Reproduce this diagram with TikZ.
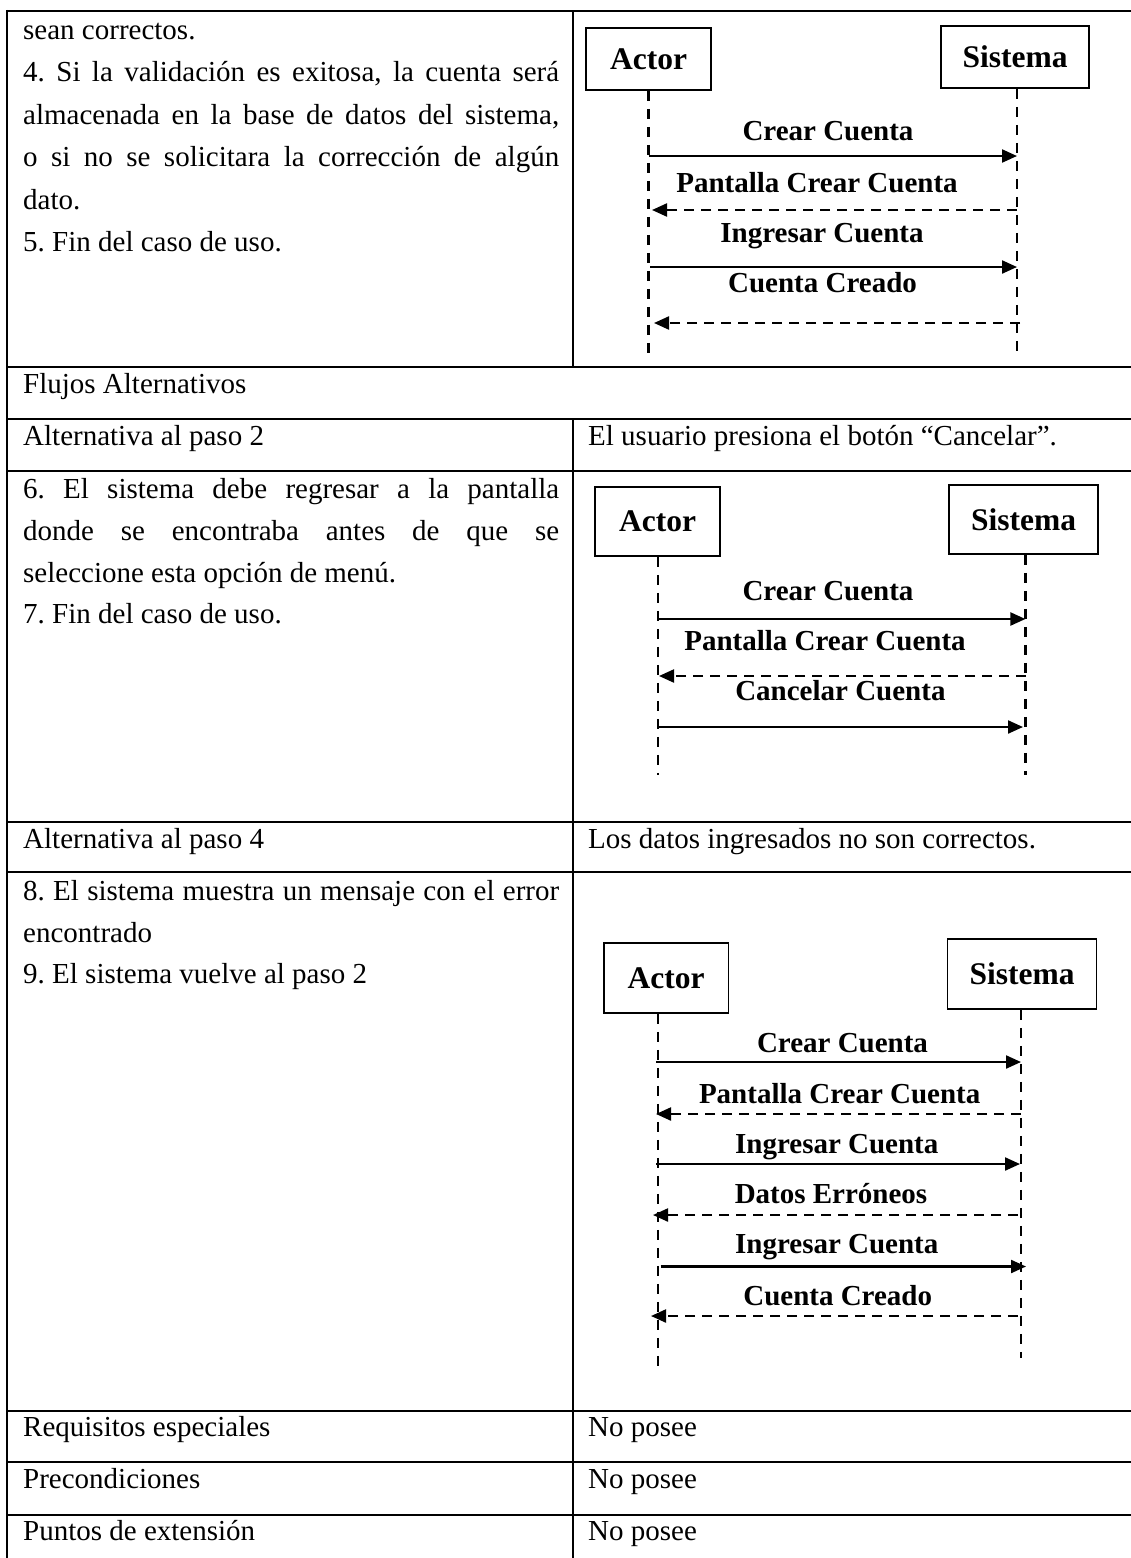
\documentclass[tikz,border=0pt]{standalone}
\usepackage{fontspec}
\setmainfont{Liberation Serif}
\usetikzlibrary{arrows.meta}
\frenchspacing

\begin{document}
\begin{tikzpicture}[x=1pt,y=-1pt,
  rule/.style={line width=2.4pt},
  body/.style={inner sep=0pt, anchor=base west, font=\fontsize{29}{35}\selectfont},
  head/.style={draw, line width=1.5pt, inner sep=0pt, minimum width=125pt,
    font=\fontsize{31.5}{36}\selectfont\bfseries},
  lbl/.style={inner sep=0pt, anchor=base, font=\fontsize{29}{35}\selectfont\bfseries},
  life/.style={line width=2.2pt, dash pattern=on 10pt off 8pt},
  call/.style={line width=2.2pt, -{Triangle[length=15pt,width=13pt]}},
  reply/.style={line width=2.2pt, dash pattern=on 10pt off 7pt,
    -{Triangle[length=15pt,width=13pt]}},
]
\useasboundingbox (0,0) rectangle (1131,1558);
\fill[white] (0,0) rectangle (1131,1558);

% ---------- table rules ----------
\foreach \yy in {11,367,419,471,822,872,1411,1462,1515}
  \draw[rule] (7,\yy) -- (1131,\yy);
\draw[rule] (7,9.8) -- (7,1558);
\draw[rule] (573,11) -- (573,367);
\draw[rule] (573,419) -- (573,1558);

% ---------- left column texts ----------
\node[body] (t1) at (23,39) {sean correctos.};
\node[body] (t2) at (23,81.5) {\makebox[536pt][s]{4. Si la validación es exitosa, la cuenta será}};
\node[body] (t3) at (23,124) {\makebox[536pt][s]{almacenada en la base de datos del sistema,}};
\node[body] (t4) at (23,166.5) {\makebox[536pt][s]{o si no se solicitara la corrección de algún}};
\node[body] (t5) at (23,209) {dato.};
\node[body] (t6) at (23,251.5) {5. Fin del caso de uso.};

\node[body] (flujos) at (23,393) {Flujos Alternativos};
\node[body] (alt2) at (23,445) {Alternativa al paso 2};
\node[body] (alt2d) at (588,445) {El usuario presiona el botón “Cancelar”.};

\node[body] (u1) at (23,498) {\makebox[536pt][s]{6. El sistema debe regresar a la pantalla}};
\node[body] (u2) at (23,540) {\makebox[536pt][s]{donde se encontraba antes de que se}};
\node[body] (u3) at (23,582) {seleccione esta opción de menú.};
\node[body] (u4) at (23,623) {7. Fin del caso de uso.};

\node[body] (alt4) at (23,848) {Alternativa al paso 4};
\node[body] (alt4d) at (588,848) {Los datos ingresados no son correctos.};

\node[body] (v1) at (23,900) {\makebox[536pt][s]{8. El sistema muestra un mensaje con el error}};
\node[body] (v2) at (23,942) {encontrado};
\node[body] (v3) at (23,983) {9. El sistema vuelve al paso 2};

\node[body] (req) at (23,1436) {Requisitos especiales};
\node[body] (reqd) at (588,1436) {No posee};
\node[body] (pre) at (23,1488) {Precondiciones};
\node[body] (pred) at (588,1488) {No posee};
\node[body] (ext) at (23,1540) {Puntos de extensión};
\node[body] (extd) at (588,1540) {No posee};

% ---------- sequence 1: main flow ----------
\node[head, minimum height=62pt] (act1) at (648.5,59) {Actor};
\node[head, minimum width=148pt, minimum height=62pt] (sys1) at (1015,57) {Sistema};
\coordinate (act1end) at (648.5,353);
\coordinate (sys1end) at (1017,353);
\draw[life] (act1.south) -- (act1end);
\draw[life] (sys1.south -| sys1end) -- (sys1end);

\coordinate (m1a) at (648.5,156);  \coordinate (m1b) at (1017,156);
\coordinate (m2a) at (1017,210);   \coordinate (m2b) at (652,210);
\coordinate (m3a) at (650,267);    \coordinate (m3b) at (1017,267);
\coordinate (m4a) at (1020,323);   \coordinate (m4b) at (654,323);
\draw[call] (m1a) -- (m1b);
\draw[reply] (m2a) -- (m2b);
\draw[call] (m3a) -- (m3b);
\draw[reply] (m4a) -- (m4b);
\node[lbl] (m1l) at (828,140) {Crear Cuenta};
\node[lbl] (m2l) at (817,192) {Pantalla Crear Cuenta};
\node[lbl] (m3l) at (822,242) {Ingresar Cuenta};
\node[lbl] (m4l) at (822.5,292) {Cuenta Creado};

% ---------- sequence 2: cancel ----------
\node[head, minimum height=69pt] (act2) at (657.5,521.5) {Actor};
\node[head, minimum width=149pt, minimum height=69pt] (sys2) at (1023.5,519.5) {Sistema};
\coordinate (act2end) at (657.6,775);
\coordinate (sys2end) at (1025.4,775);
\draw[life] (act2.south -| act2end) -- (act2end);
\draw[life] (sys2.south -| sys2end) -- (sys2end);

\coordinate (n1a) at (657.6,619);  \coordinate (n1b) at (1025.4,619);
\coordinate (n2a) at (1026,676);   \coordinate (n2b) at (659,676);
\coordinate (n3a) at (657.6,727);  \coordinate (n3b) at (1023,727);
\draw[call] (n1a) -- (n1b);
\draw[reply] (n2a) -- (n2b);
\draw[call] (n3a) -- (n3b);
\node[lbl] (n1l) at (828,600) {Crear Cuenta};
\node[lbl] (n2l) at (825,650) {Pantalla Crear Cuenta};
\node[lbl] (n3l) at (840.4,700) {Cancelar Cuenta};

% ---------- sequence 3: wrong data ----------
\node[head, minimum width=124.5pt, minimum height=70pt] (act3) at (666,978) {Actor};
\node[head, minimum width=149pt, minimum height=70pt] (sys3) at (1022,974) {Sistema};
\coordinate (act3end) at (658,1370);
\coordinate (sys3end) at (1021,1358);
\draw[life] (act3.south -| act3end) -- (act3end);
\draw[life] (sys3.south -| sys3end) -- (sys3end);

\coordinate (k1a) at (656,1062);   \coordinate (k1b) at (1021,1062);
\coordinate (k2a) at (1021,1114);  \coordinate (k2b) at (656,1114);
\coordinate (k3a) at (656,1164);   \coordinate (k3b) at (1020,1164);
\coordinate (k4a) at (1018,1215);  \coordinate (k4b) at (653,1215);
\coordinate (k5a) at (660.5,1266.5); \coordinate (k5b) at (1026,1266.5);
\coordinate (k6a) at (1018,1316);  \coordinate (k6b) at (651,1316);
\draw[call] (k1a) -- (k1b);
\draw[reply] (k2a) -- (k2b);
\draw[call] (k3a) -- (k3b);
\draw[reply] (k4a) -- (k4b);
\draw[call] (k5a) -- (k5b);
\draw[reply] (k6a) -- (k6b);
\node[lbl] (k1l) at (842.5,1052) {Crear Cuenta};
\node[lbl] (k2l) at (839.7,1103) {Pantalla Crear Cuenta};
\node[lbl] (k3l) at (836.8,1153) {Ingresar Cuenta};
\node[lbl] (k4l) at (831,1203) {Datos Erróneos};
\node[lbl] (k5l) at (836.8,1253) {Ingresar Cuenta};
\node[lbl] (k6l) at (837.7,1305) {Cuenta Creado};
\end{tikzpicture}
\end{document}
